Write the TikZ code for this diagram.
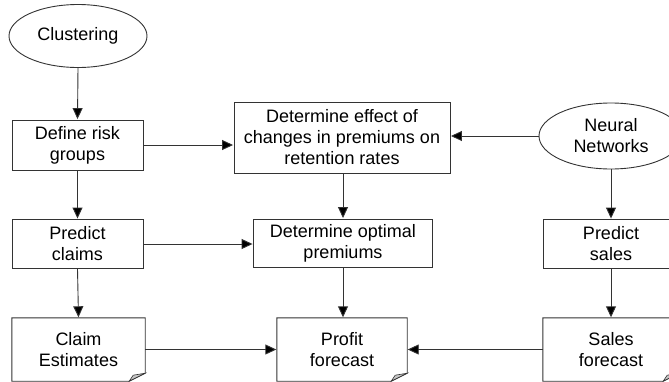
\documentclass[tikz,border=0pt]{standalone}
\usepackage{fontspec}
\setmainfont{Liberation Sans}
\usetikzlibrary{arrows.meta,shapes.geometric}
\definecolor{ln}{HTML}{333333}
\tikzset{
  lbl/.style={align=center,inner sep=0pt,font=\fontsize{18}{21}\selectfont},
  box/.style={lbl,draw=ln,line width=0.9pt,fill=white},
  ell/.style={lbl,draw=ln,line width=0.9pt,ellipse},
  doc/.style={lbl},
  arr/.style={draw=ln,line width=0.9pt,-{Triangle[length=11pt,width=10pt,fill=black]},shorten >=0.5pt}
}
\newcommand{\docshape}[1]{%
  \draw[ln,line width=0.9pt,fill=white] (#1.north west) -- (#1.north east) -- ([yshift=8pt]#1.south east) -- ([xshift=-16pt]#1.south east) -- (#1.south west) -- cycle;
  \draw[ln,line width=0.6pt,fill=gray!45] ([yshift=8pt]#1.south east) -- ([xshift=-16pt]#1.south east) -- ([xshift=-12pt,yshift=6pt]#1.south east) -- cycle;
}
\begin{document}
\begin{tikzpicture}[x=1pt,y=-1pt]
\useasboundingbox (0,0) rectangle (669,381);
\clip (0,0) rectangle (669,381);
% nodes
\node[ell,minimum width=138pt,minimum height=63pt] (clu) at (78,36) {Clustering};
\node[box,minimum width=131pt,minimum height=50pt] (def) at (77.5,145) {Define risk\\groups};
\node[box,minimum width=131pt,minimum height=49pt] (pc) at (77.5,244) {Predict\\claims};
\node[box,minimum width=216pt,minimum height=71pt] (eff) at (342,137.5) {Determine effect of\\changes in premiums on\\retention rates};
\node[box,minimum width=179pt,minimum height=48pt] (opt) at (343,243) {Determine optimal\\premiums};
\node[ell,minimum width=144pt,minimum height=66pt] (nn) at (611,136) {Neural\\Networks};
\node[box,minimum width=136pt,minimum height=49pt] (ps) at (611,244) {Predict\\sales};
% documents
\node[doc,minimum width=133pt,minimum height=63pt] (ce) at (78.5,349.5) {};
\node[doc,minimum width=130pt,minimum height=63pt] (pf) at (342,349.5) {};
\node[doc,minimum width=136pt,minimum height=63pt] (sf) at (611,349.5) {};
\docshape{ce}
\docshape{pf}
\docshape{sf}
\node[lbl] at (ce) {Claim\\Estimates};
\node[lbl] at (pf) {Profit\\forecast};
\node[lbl] at (sf) {Sales\\forecast};
% connectors
\draw[arr] (clu.south) -- (def.north);
\draw[arr] (def.south) -- (pc.north);
\draw[arr] (pc.south) -- (ce.north);
\draw[arr] (def.east) -- (def.east -| eff.west);
\draw[arr] (nn.west) -- (nn.west -| eff.east);
\draw[arr] (eff.south -| opt.north) -- (opt.north);
\draw[arr] (pc.east) -- (pc.east -| opt.west);
\draw[arr] (opt.south) -- (opt.south |- pf.north);
\draw[arr] (ce.east) -- (pf.west);
\draw[arr] (sf.west) -- (pf.east);
\draw[arr] (nn.south) -- (ps.north);
\draw[arr] (ps.south) -- (sf.north);
\end{tikzpicture}
\end{document}
